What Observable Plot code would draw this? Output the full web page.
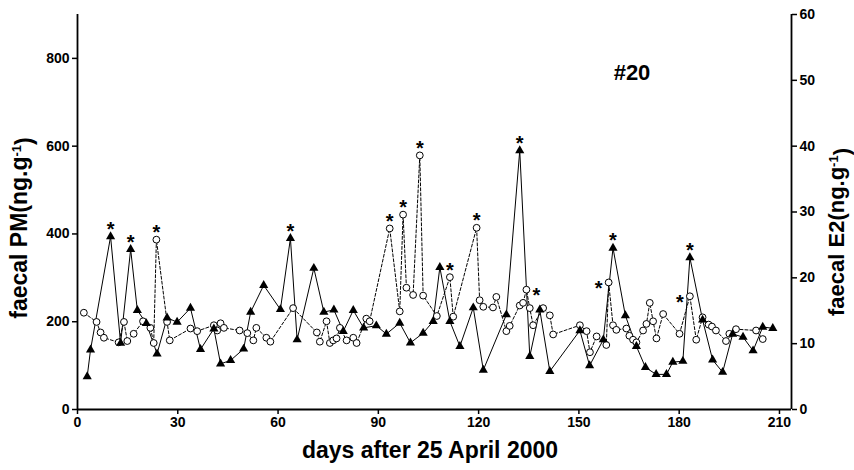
<!DOCTYPE html>
<html><head><meta charset="utf-8">
<script src="https://cdn.jsdelivr.net/npm/d3@7"></script>
<script src="https://cdn.jsdelivr.net/npm/@observablehq/plot@0.6"></script>
<style>
html,body{margin:0;padding:0;background:#fff;}
#chart{width:854px;height:470px;}
</style>
</head><body><div id="chart"></div>
<script>
// faecal PM (ng/g), filled triangles, solid line, left axis
const pmDays = [2.9,3.9,9.9,12.9,15.9,17.9,20.6,23.8,26.8,29.8,33.8,36.8,40.8,42.8,45.8,49.7,51.8,55.7,60.7,63.7,65.7,70.7,73.7,76.7,79.5,82.5,85.6,89.4,92.4,96.4,99.6,103.4,106.4,108.4,111.4,114.4,118.4,121.4,128.3,132.3,135.3,138.3,141.3,150.3,153.2,157.3,160.2,163.9,167.2,169.9,173.1,176.2,178.1,181.1,183.2,187.0,190.0,193.0,196.0,199.1,202.1,205.0,208.0];
const pmValues = [75,136,394,151,365,226,196,127,209,199,231,137,184,104,112,138,222,283,228,390,159,322,222,227,178,226,186,191,172,197,152,174,201,324,201,144,232,90,216,590,121,227,87,180,100,159,368,214,144,96,80,80,108,110,346,204,113,85,172,165,134,188,185];
// faecal E2 (ng/g), open circles, dashed line, right axis
const e2Days = [1.9,5.7,6.9,7.9,12.3,13.9,14.9,16.8,19.6,21.8,22.8,23.6,26.8,27.6,33.8,35.8,40.8,41.8,42.8,43.8,48.5,50.8,52.6,53.5,56.5,57.7,64.5,71.6,72.5,74.5,75.5,76.5,77.5,78.5,80.5,82.5,83.5,86.4,87.4,93.4,96.4,97.4,98.4,100.4,102.4,103.4,107.5,111.4,112.4,119.4,120.3,121.4,124.3,125.3,128.3,129.3,132.3,133.3,134.3,135.3,136.3,139.3,141.3,142.3,150.3,152.3,153.3,155.3,158.2,158.9,160.2,161.2,164.2,165.1,166.2,167.2,169.2,170.2,171.2,172.2,173.2,175.2,180.1,183.2,185.1,187.0,188.8,189.8,191.0,194.0,195.0,197.0,203.0,205.0];
const e2Values = [14.7,13.3,11.7,10.9,10.2,13.3,10.4,11.5,13.4,12.4,10.1,25.8,13.3,10.5,12.3,11.9,12.8,12.0,13.1,12.4,12.0,11.6,10.5,12.4,10.9,10.3,15.4,11.7,10.3,13.4,10.1,10.5,10.8,12.4,10.5,10.9,10.1,13.8,13.4,27.5,14.9,29.6,18.5,17.4,38.6,17.3,14.2,20.1,14.1,27.6,16.6,15.6,15.5,17.1,11.9,12.7,15.8,16.2,18.2,15.4,12.8,15.4,14.3,11.4,12.8,11.9,8.7,11.1,9.8,19.3,12.8,12.1,12.3,11.2,10.6,10.2,12.0,13.0,16.2,13.4,10.8,14.5,11.5,17.2,10.6,14.0,12.9,12.6,12.0,10.4,11.5,12.2,12.0,10.7];

const xTicks = [0,30,60,90,120,150,180,210];
const pmTicks = [0,200,400,600,800];
const e2Ticks = [0,10,20,30,40,50,60];
// significant peaks (asterisks)
const starsPM = [9.9,15.9,63.7,132.3,160.2,183.2];
const starsE2Above = [23.6,93.4,97.4,102.4,111.4,119.4];
const starsE2Right = [134.3];
const starsE2Left = [158.9,183.2];

const panelLabel = "#20";
const xLabel = "days after 25 April 2000";
const yLeftLabel = ["faecal PM(ng.g", "-1", ")"];
const yRightLabel = ["faecal E2(ng.g", "-1", ")"];

const xMax = 213.6, pmMax = 900, e2Max = 60;
const ratio = pmMax / e2Max;
const pm = pmDays.map((d, i) => ({day: d, v: pmValues[i]}));
const e2 = e2Days.map((d, i) => ({day: d, v: e2Values[i] * ratio}));
const pick = (arr, days) => days.map(d => arr.find(p => p.day === d));

const font = "'Liberation Sans',Arial,Helvetica,sans-serif";
const starStyle = {text: () => "*", fontSize: 20, fontFamily: font, fontWeight: "bold"};

const plot = Plot.plot({
  width: 854, height: 470,
  marginLeft: 77, marginRight: 63, marginTop: 14, marginBottom: 61,
  x: {domain: [0, xMax]},
  y: {domain: [0, pmMax]},
  style: {fontFamily: font, fontSize: "14px", fontWeight: "bold", color: "#000", background: "#fff", overflow: "visible"},
  marks: [
    Plot.axisX({ticks: xTicks, tickSize: 5, tickPadding: 3, label: null, strokeWidth: 1.5}),
    Plot.axisY({ticks: pmTicks, tickSize: 5, tickPadding: 3, label: null, anchor: "left", strokeWidth: 1.5}),
    Plot.axisY({ticks: e2Ticks.map(t => t * ratio), tickFormat: d => d / ratio, anchor: "right", tickSize: 5, tickPadding: 3, label: null, strokeWidth: 1.5}),
    Plot.ruleX([0, xMax], {y1: 0, y2: pmMax, stroke: "#000", strokeWidth: 1.8}),
    Plot.ruleY([0], {x1: 0, x2: xMax, stroke: "#000", strokeWidth: 1.8}),
    Plot.line(pm, {x: "day", y: "v", stroke: "#000", strokeWidth: 1}),
    Plot.line(e2, {x: "day", y: "v", stroke: "#000", strokeWidth: 1, strokeDasharray: "3,2"}),
    Plot.dot(e2, {x: "day", y: "v", r: 3.4, fill: "#fff", stroke: "#000", strokeWidth: 1}),
    Plot.dot(pm, {x: "day", y: "v", symbol: "triangle", r: 3.4, fill: "#000", stroke: "none"}),
    Plot.text(pick(pm, starsPM), {x: "day", y: "v", dy: -7, ...starStyle}),
    Plot.text(pick(e2, starsE2Above), {x: "day", y: "v", dy: -7, ...starStyle}),
    Plot.text(pick(e2, starsE2Right), {x: "day", y: "v", dx: 10, dy: 6, ...starStyle}),
    Plot.text(pick(e2, starsE2Left), {x: "day", y: "v", dx: -10, dy: 6, ...starStyle})
  ]
});
document.getElementById("chart").appendChild(plot);

const svg = d3.select(plot);
svg.append("text")
  .attr("x", 632).attr("y", 80)
  .attr("text-anchor", "middle")
  .style("font-family", font).style("font-weight", "bold").style("font-size", "22px")
  .text(panelLabel);

svg.append("text")
  .attr("x", 430).attr("y", 458)
  .attr("text-anchor", "middle")
  .style("font-family", font).style("font-weight", "bold").style("font-size", "23px")
  .text(xLabel);

function vTitle(parts, x, y, size) {
  const t = svg.append("text")
    .attr("transform", `translate(${x},${y}) rotate(-90)`)
    .attr("text-anchor", "middle")
    .style("font-family", font).style("font-weight", "bold").style("font-size", size + "px");
  t.append("tspan").text(parts[0]);
  t.append("tspan").attr("dy", "-0.5em").style("font-size", "13px").text(parts[1]);
  t.append("tspan").attr("dy", "0.5em").text(parts[2]);
}
vTitle(yLeftLabel, 27, 228, 23);
vTitle(yRightLabel, 844, 232, 22);
</script>
</body></html>
